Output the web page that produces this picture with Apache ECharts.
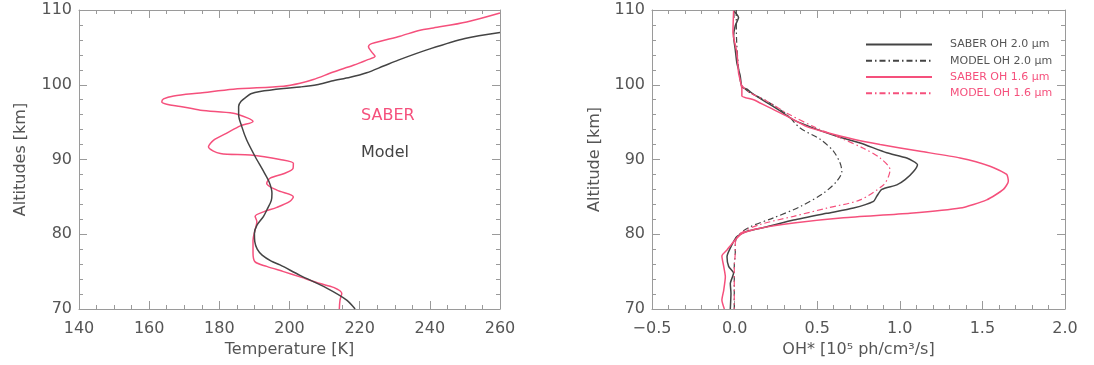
<!DOCTYPE html>
<html><head><meta charset="utf-8">
<script src="https://cdn.jsdelivr.net/npm/echarts@6/dist/echarts.min.js"></script>
<style>html,body{margin:0;padding:0;background:#fff}#c{width:1094px;height:365px}</style>
</head><body><div id="c"></div>
<script>
// ---- Left panel: temperature profiles ----
const saberTAlt = [109.6,108.4,107.6,107.3,106.5,105.5,105.1,104.4,103.8,103.3,102.6,101.7,100.7,100.2,99.8,99.4,98.9,98.5,98.1,97.7,97.4,97.1,96.6,96.2,95.6,95.1,94.5,93.5,92.6,91.7,90.8,90.6,90.0,89.5,88.8,88.1,87.5,86.8,85.9,85.0,84.4,83.6,83.0,82.4,81.7,80.6,79.2,77.5,76.3,75.7,75.0,74.3,73.4,72.9,72.1,71.2,70.0];
const saberT    = [260,250.5,241,237.2,231.5,223.4,222.5,223.4,224.4,222,218.2,212.5,206.8,203,198.3,184,174.6,167,164.1,163.6,165,168.9,174.6,184,187.8,189.6,186,182,178.4,176.9,180.3,188.8,197.3,201.1,201,198.3,194.5,193.5,196.4,201.1,200.1,196.4,192.6,190.2,190.7,190.2,189.6,189.6,190.2,193.5,198.3,203,208.7,212.5,214.9,214.4,214.2];
const modelTAlt = [107.0,106.2,104.8,103.3,102.5,101.6,101.0,100.5,100.0,99.7,99.5,99.1,98.8,98.4,97.8,97.1,96.0,94.4,92.6,90.4,88.5,87.0,85.5,84.5,83.5,82.4,81.2,80.1,79.0,78.0,77.2,76.4,75.9,74.5,72.8,71.2,70.0];
const modelT    = [260,250,240,231,226.8,222,217.3,212,207.8,203,198.3,191.6,189,187.8,186.2,185.5,185.5,186.4,187.8,190.2,192.5,194.2,195,194.8,193.8,192.6,190.7,190,190.1,190.8,192.2,194.8,197.3,203,210.6,216.3,218.7];
const tempTicks = [140,160,180,200,220,240,260];
const altTicks  = [70,80,90,100,110];

// ---- Right panel: OH emission profiles ----
const ohSaber20Alt = [109.9,109.0,107.9,106.5,104.7,102.9,101.2,99.7,99.4,98.7,97.6,96.5,95.3,94.2,93.1,92.2,90.9,90.2,89.3,88.4,87.3,86.6,86.0,85.1,84.4,83.5,82.8,81.9,81.0,80.4,79.7,78.6,77.0,75.7,74.8,73.4,72.1,70.0];
const ohSaber20    = [-0.006,0.024,0.004,-0.006,0.004,0.014,0.034,0.044,0.075,0.115,0.196,0.276,0.357,0.478,0.619,0.76,0.921,1.042,1.107,1.083,1.032,0.982,0.891,0.861,0.841,0.72,0.558,0.357,0.196,0.075,0.014,-0.016,-0.046,-0.036,-0.006,-0.026,-0.022,-0.026];
const ohModel20Alt = [110.0,106.0,102.0,100.0,99.5,98.9,97.8,96.0,94.2,92.7,91.1,89.5,88.4,87.1,85.5,83.7,82.2,81.0,79.9,78.8,77.5,75.7,70.0];
const ohModel20    = [0.01,0.012,0.025,0.04,0.06,0.095,0.196,0.317,0.397,0.518,0.599,0.639,0.649,0.619,0.538,0.397,0.236,0.095,0.024,0.004,0.004,-0.002,-0.002];
const ohSaber16Alt = [109.9,107.0,104.3,101.6,99.4,98.5,98.0,97.1,95.8,94.4,93.6,92.7,92.0,91.1,90.2,89.1,88.0,87.1,86.0,84.6,83.5,82.8,82.2,81.5,80.8,80.1,79.0,77.9,77.1,75.7,74.3,72.5,71.2,70.0];
const ohSaber16    = [-0.006,-0.01,0.014,0.024,0.044,0.044,0.115,0.196,0.317,0.437,0.558,0.72,0.881,1.123,1.365,1.546,1.647,1.657,1.627,1.526,1.365,1.062,0.659,0.357,0.155,0.044,-0.006,-0.046,-0.077,-0.066,-0.056,-0.066,-0.077,-0.062];
const ohModel16Alt = [100.0,99.5,98.9,97.8,96.2,94.4,92.9,91.5,90.2,88.6,87.7,86.6,84.6,83.5,82.4,81.3,80.1,78.8,77.5,75.7,70.0];
const ohModel16    = [0.04,0.06,0.095,0.196,0.317,0.478,0.639,0.78,0.881,0.941,0.931,0.901,0.76,0.558,0.357,0.155,0.034,0.004,0.004,-0.002,-0.002];
const ohTicks = [-0.5,0.0,0.5,1.0,1.5,2.0];
const legendNames = ['SABER OH 2.0 μm','MODEL OH 2.0 μm','SABER OH 1.6 μm','MODEL OH 1.6 μm'];

const PINK = '#f5507c', DARK = '#444444', AX = '#9a9a9a', TXT = '#555555';
const FONT = 'DejaVu Sans';
const pairs = (xs, ys) => xs.map((v, i) => [v, ys[i]]);
const fmtOH = v => (v < 0 ? '\u2212' : '') + Math.abs(v).toFixed(1);

function xAx(grid, min, max, interval, minorSplit, pos, showLabel, name, fmt) {
  return {
    type: 'value', gridIndex: grid, position: pos, min, max, interval,
    name: showLabel ? name : '', nameLocation: 'middle', nameGap: 33,
    nameTextStyle: {color: TXT, fontFamily: FONT, fontSize: 16},
    axisLine: {show: true, onZero: false, lineStyle: {color: AX, width: 1}},
    axisTick: {show: true, inside: true, length: 8, lineStyle: {color: AX}},
    minorTick: {show: true, splitNumber: minorSplit, length: 4, lineStyle: {color: AX}},
    splitLine: {show: false},
    axisLabel: {show: showLabel, color: TXT, fontFamily: FONT, fontSize: 16, margin: 12, formatter: fmt},
  };
}
function yAx(grid, pos, showLabel, name, gap) {
  return {
    type: 'value', gridIndex: grid, position: pos, min: altTicks[0], max: altTicks[altTicks.length - 1], interval: 10,
    name: showLabel ? name : '', nameLocation: 'middle', nameGap: gap,
    nameTextStyle: {color: TXT, fontFamily: FONT, fontSize: 16},
    axisLine: {show: true, onZero: false, lineStyle: {color: AX, width: 1}},
    axisTick: {show: true, inside: true, length: 8, lineStyle: {color: AX}},
    minorTick: {show: true, splitNumber: 5, length: 4, lineStyle: {color: AX}},
    splitLine: {show: false},
    axisLabel: {show: showLabel, color: TXT, fontFamily: FONT, fontSize: 16, margin: 7},
  };
}

const chart = echarts.init(document.getElementById('c'));
const tMin = tempTicks[0], tMax = tempTicks[tempTicks.length - 1];
const oMin = ohTicks[0], oMax = ohTicks[ohTicks.length - 1];
chart.setOption({
  animation: false,
  backgroundColor: '#fff',
  grid: [
    {left: 79, right: 594, top: 10, bottom: 56},
    {left: 652, right: 29, top: 10, bottom: 56},
  ],
  xAxis: [
    xAx(0, tMin, tMax, 20, 4, 'bottom', true, 'Temperature [K]', v => v),
    xAx(0, tMin, tMax, 20, 4, 'top', false, ''),
    xAx(1, oMin, oMax, 0.5, 5, 'bottom', true, 'OH* [10⁵ ph/cm³/s]', fmtOH),
    xAx(1, oMin, oMax, 0.5, 5, 'top', false, ''),
  ],
  yAxis: [
    yAx(0, 'left', true, 'Altitudes [km]', 50),
    yAx(0, 'right', false, ''),
    yAx(1, 'left', true, 'Altitude [km]', 49),
    yAx(1, 'right', false, ''),
  ],
  legend: {
    left: 865, top: 39, padding: 0, orient: 'vertical', itemWidth: 66, itemHeight: 14, itemGap: 5,
    itemStyle: {opacity: 0, borderWidth: 0},
    textStyle: {fontFamily: FONT, fontSize: 11, padding: [0, 0, 0, 13]},
    data: [
      {name: legendNames[0], textStyle: {color: '#555'}},
      {name: legendNames[1], textStyle: {color: '#555'}},
      {name: legendNames[2], textStyle: {color: PINK}},
      {name: legendNames[3], textStyle: {color: PINK}},
    ],
  },
  graphic: [
    {type: 'text', left: 361, top: 108, style: {text: 'SABER', fill: PINK, font: '16px "DejaVu Sans"'}},
    {type: 'text', left: 361, top: 145, style: {text: 'Model', fill: DARK, font: '16px "DejaVu Sans"'}},
  ],
  series: [
    {type: 'line', xAxisIndex: 0, yAxisIndex: 0, data: pairs(saberT, saberTAlt), showSymbol: false, symbol: 'none', smooth: 0.3,
     lineStyle: {color: PINK, width: 1.5}, clip: true},
    {type: 'line', xAxisIndex: 0, yAxisIndex: 0, data: pairs(modelT, modelTAlt), showSymbol: false, symbol: 'none', smooth: 0.3,
     lineStyle: {color: DARK, width: 1.5}, clip: true},
    {name: legendNames[0], type: 'line', xAxisIndex: 2, yAxisIndex: 2, data: pairs(ohSaber20, ohSaber20Alt), symbol: 'none', smooth: 0.2,
     lineStyle: {color: DARK, width: 1.5}, itemStyle: {color: DARK}},
    {name: legendNames[1], type: 'line', xAxisIndex: 2, yAxisIndex: 2, data: pairs(ohModel20, ohModel20Alt), symbol: 'none', smooth: 0.3,
     lineStyle: {color: DARK, width: 1.2, type: [6, 3, 1.5, 3]}, itemStyle: {color: DARK}},
    {name: legendNames[2], type: 'line', xAxisIndex: 2, yAxisIndex: 2, data: pairs(ohSaber16, ohSaber16Alt), symbol: 'none', smooth: 0.2,
     lineStyle: {color: PINK, width: 1.5}, itemStyle: {color: PINK}},
    {name: legendNames[3], type: 'line', xAxisIndex: 2, yAxisIndex: 2, data: pairs(ohModel16, ohModel16Alt), symbol: 'none', smooth: 0.3,
     lineStyle: {color: PINK, width: 1.2, type: [6, 3, 1.5, 3]}, itemStyle: {color: PINK}},
  ],
});
</script></body></html>
